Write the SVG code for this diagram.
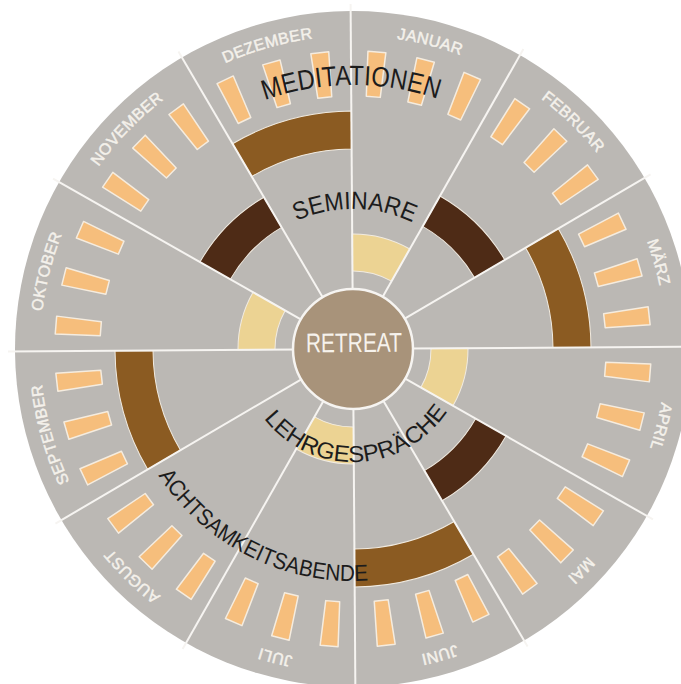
<svg xmlns="http://www.w3.org/2000/svg" xmlns:xlink="http://www.w3.org/1999/xlink" width="681" height="684" viewBox="0 0 681 684">
<style>
.wheel{fill:#bbb8b4}
.div{stroke:#f6f4f1;stroke-width:2}
.yel{fill:#ecd393;stroke:#f1ebe1;stroke-width:1}
.dark{fill:#4e2b16;stroke:#f1ebe1;stroke-width:1}
.med{fill:#8b5b22;stroke:#f1ebe1;stroke-width:1}
.bar{fill:#f6be7c;stroke:#f5ecdf;stroke-width:1.5;stroke-linejoin:round}
.month{font-family:"Liberation Sans",Arial,sans-serif;font-size:16px;fill:#f4f1eb;stroke:#f4f1eb;stroke-width:0.45px;letter-spacing:0.3px}
.ring{font-family:"Liberation Sans",Arial,sans-serif;fill:#1c1c1c}
.hub{fill:#a8937a;stroke:#f6f4f1;stroke-width:2.5}
</style>
<defs>
<path id="yelP" d="M0,-115 A115,115 0 0 1 57.5,-99.59 L39,-67.55 A78,78 0 0 0 0,-78 Z"/>
<path id="darkP" d="M0,-176 A176,176 0 0 1 88,-152.42 L70.5,-122.11 A141,141 0 0 0 0,-141 Z"/>
<path id="medP" d="M0,-238 A238,238 0 0 1 119,-206.11 L100,-173.2 A200,200 0 0 0 0,-200 Z"/>
<polygon id="barP" points="-7,-253 7,-253 9,-298 -9,-298"/>
<g id="bars3">
<use xlink:href="#barP" transform="rotate(5)"/>
<use xlink:href="#barP" transform="rotate(14.5)"/>
<use xlink:href="#barP" transform="rotate(24)"/>
</g>
<path id="monthPath" d="M0,-313 A313,313 0 1 1 0,313 A313,313 0 1 1 0,-313"/>
<path id="medPath" d="M0,264 A264,264 0 1 1 0,-264 A264,264 0 1 1 0,264"/>
<path id="semPath" d="M0,140 A140,140 0 1 1 0,-140 A140,140 0 1 1 0,140"/>
<path id="lehPath" d="M0,-113 A113,113 0 1 0 0,113 A113,113 0 1 0 0,-113"/>
<path id="achPath" d="M0,-232 A232,232 0 1 0 0,232 A232,232 0 1 0 0,-232"/>
</defs>
<g transform="translate(353,349) rotate(-0.4)">
<circle id="wheel" class="wheel" r="338"/>
<g id="retreat-ring" class="yel">
<use xlink:href="#yelP"/>
<use xlink:href="#yelP" transform="rotate(90)"/>
<use xlink:href="#yelP" transform="rotate(180)"/>
<use xlink:href="#yelP" transform="rotate(270)"/>
</g>
<g id="seminar-ring" class="dark">
<use xlink:href="#darkP" transform="rotate(30)"/>
<use xlink:href="#darkP" transform="rotate(120)"/>
<use xlink:href="#darkP" transform="rotate(300)"/>
</g>
<g id="abend-ring" class="med">
<use xlink:href="#medP" transform="rotate(60)"/>
<use xlink:href="#medP" transform="rotate(150)"/>
<use xlink:href="#medP" transform="rotate(240)"/>
<use xlink:href="#medP" transform="rotate(330)"/>
</g>
<g id="meditation-bars" class="bar">
<use xlink:href="#bars3"/>
<use xlink:href="#bars3" transform="rotate(30)"/>
<use xlink:href="#bars3" transform="rotate(60)"/>
<use xlink:href="#bars3" transform="rotate(90)"/>
<use xlink:href="#bars3" transform="rotate(120)"/>
<use xlink:href="#bars3" transform="rotate(150)"/>
<use xlink:href="#bars3" transform="rotate(180)"/>
<use xlink:href="#bars3" transform="rotate(210)"/>
<use xlink:href="#bars3" transform="rotate(240)"/>
<use xlink:href="#bars3" transform="rotate(270)"/>
<use xlink:href="#bars3" transform="rotate(300)"/>
<use xlink:href="#bars3" transform="rotate(330)"/>
</g>
<g id="connectors" class="div">
<line x1="0" y1="-55" x2="0" y2="-345"/>
<line x1="0" y1="-55" x2="0" y2="-345" transform="rotate(30)"/>
<line x1="0" y1="-55" x2="0" y2="-345" transform="rotate(60)"/>
<line x1="0" y1="-55" x2="0" y2="-345" transform="rotate(90)"/>
<line x1="0" y1="-55" x2="0" y2="-345" transform="rotate(120)"/>
<line x1="0" y1="-55" x2="0" y2="-345" transform="rotate(150)"/>
<line x1="0" y1="-55" x2="0" y2="-345" transform="rotate(180)"/>
<line x1="0" y1="-55" x2="0" y2="-345" transform="rotate(210)"/>
<line x1="0" y1="-55" x2="0" y2="-345" transform="rotate(240)"/>
<line x1="0" y1="-55" x2="0" y2="-345" transform="rotate(270)"/>
<line x1="0" y1="-55" x2="0" y2="-345" transform="rotate(300)"/>
<line x1="0" y1="-55" x2="0" y2="-345" transform="rotate(330)"/>
</g>
<g id="months" class="month" text-anchor="middle">
<text><textPath xlink:href="#monthPath" startOffset="79.2">JANUAR</textPath></text>
<text><textPath xlink:href="#monthPath" startOffset="243.1">FEBRUAR</textPath></text>
<text><textPath xlink:href="#monthPath" startOffset="407">MÄRZ</textPath></text>
<text><textPath xlink:href="#monthPath" startOffset="570.9">APRIL</textPath></text>
<text><textPath xlink:href="#monthPath" startOffset="734.7">MAI</textPath></text>
<text><textPath xlink:href="#monthPath" startOffset="898.6">JUNI</textPath></text>
<text><textPath xlink:href="#monthPath" startOffset="1062.5">JULI</textPath></text>
<text><textPath xlink:href="#monthPath" startOffset="1226.4">AUGUST</textPath></text>
<text><textPath xlink:href="#monthPath" startOffset="1390.3">SEPTEMBER</textPath></text>
<text><textPath xlink:href="#monthPath" startOffset="1554.2">OKTOBER</textPath></text>
<text><textPath xlink:href="#monthPath" startOffset="1718.1">NOVEMBER</textPath></text>
<text><textPath xlink:href="#monthPath" startOffset="1882">DEZEMBER</textPath></text>
</g>
<g id="hub">
<circle class="hub" r="60"/>
<text x="1" y="3" text-anchor="middle" font-family="Liberation Sans, Arial, sans-serif" font-size="27" fill="#f6f2ec" textLength="96" lengthAdjust="spacingAndGlyphs">RETREAT</text>
</g>
<g id="ring-labels" class="ring" text-anchor="middle">
<text id="lbl-meditationen" font-size="28"><textPath xlink:href="#medPath" startOffset="50%" textLength="176" lengthAdjust="spacingAndGlyphs">MEDITATIONEN</textPath></text>
<text id="lbl-seminare" font-size="25"><textPath xlink:href="#semPath" startOffset="50.3%" textLength="120" lengthAdjust="spacingAndGlyphs">SEMINARE</textPath></text>
<text id="lbl-lehrgespraeche" font-size="23"><textPath xlink:href="#lehPath" startOffset="50.5%" textLength="214" lengthAdjust="spacingAndGlyphs">LEHRGESPRÄCHE</textPath></text>
<text id="lbl-achtsamkeitsabende" font-size="23"><textPath xlink:href="#achPath" startOffset="42.5%" textLength="246" lengthAdjust="spacingAndGlyphs">ACHTSAMKEITSABENDE</textPath></text>
</g>
</g>
</svg>
